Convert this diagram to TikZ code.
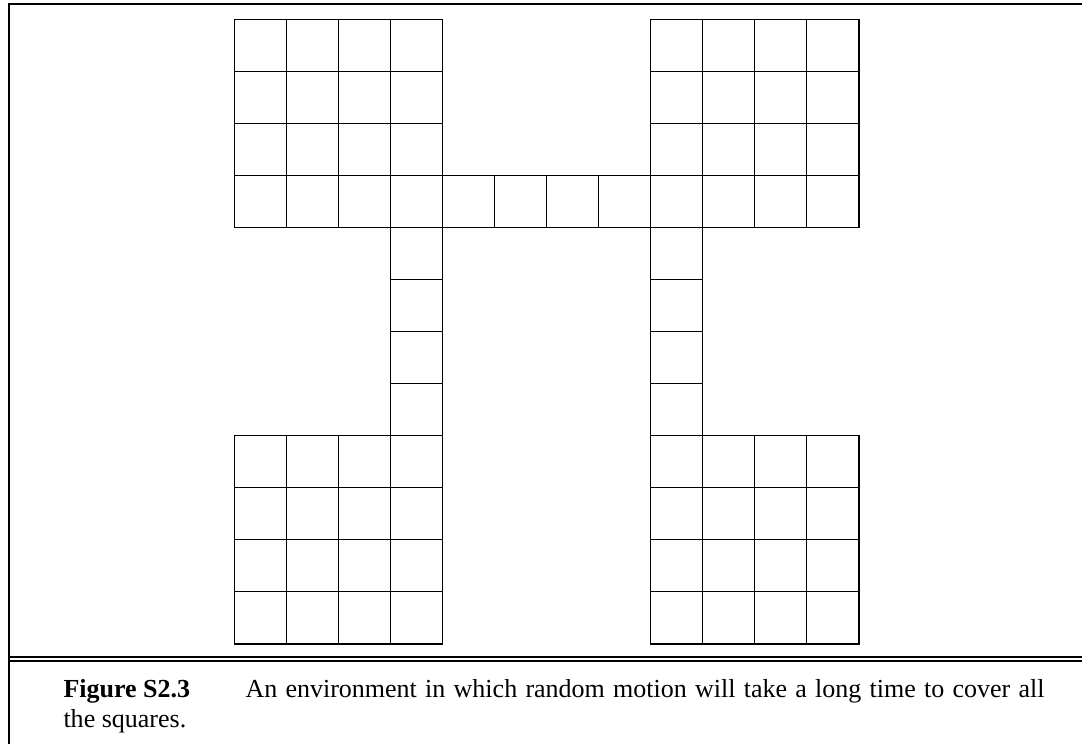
\documentclass[tikz,border=0pt]{standalone}
\usepackage{fontspec}
\setmainfont{Liberation Serif}
\usetikzlibrary{positioning}
\definecolor{figInk}{HTML}{000000}

\begin{document}
\begin{tikzpicture}[x=0.3846pt,y=-0.3846pt,font=\fontsize{10pt}{11.5pt}\selectfont,
    frameline/.style={draw=figInk,line width=0.7pt},
    cellline/.style={draw=figInk,line width=0.42pt}]
  \useasboundingbox (0,0) rectangle (1082,744);

  % outer frame, open on the right and below
  \draw[frameline] (9,744) -- (9,4) -- (1082,4);
  \draw[draw=figInk,line width=0.85pt] (9,656.7) -- (1082,656.7);
  \draw[draw=figInk,line width=0.65pt] (9,661) -- (1082,661);

  % the four rooms and the corridors
  \begin{scope}[shift={(234.3,19.3)},x=20.02pt,y=-20.02pt]
    \foreach \bx/\by in {0/0,8/0,0/8,8/8}
      \foreach \i in {0,...,3}
        \foreach \j in {0,...,3}
          \draw[cellline] (\bx+\i,\by+\j) rectangle ++(1,1);
    \foreach \k in {4,...,7} {
      \draw[cellline] (\k,3) rectangle ++(1,1);
      \draw[cellline] (3,\k) rectangle ++(1,1);
      \draw[cellline] (8,\k) rectangle ++(1,1);
    }
  \end{scope}

  % caption
  \node[anchor=base west,inner sep=0pt,font=\fontsize{10pt}{11.5pt}\selectfont\bfseries]
    (figlabel) at (63,697) {Figure S2.3};
  \node[anchor=base west,inner sep=0pt] (figtext) at (245,697)
    {\makebox[307.3pt][s]{An environment in which random motion will take a long time to cover all}};
  \node[anchor=base west,inner sep=0pt] (figtext2) at (63,727) {the squares.};
\end{tikzpicture}
\end{document}
